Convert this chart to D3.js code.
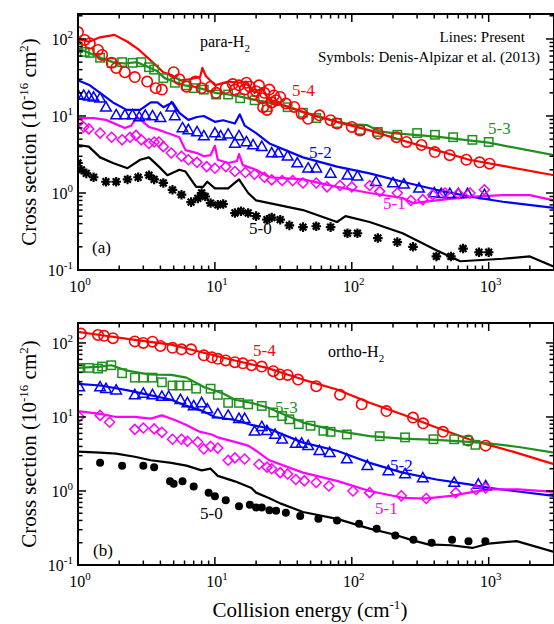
<!DOCTYPE html>
<html>
<head>
<meta charset="utf-8">
<script src="https://cdn.jsdelivr.net/npm/d3@7"></script>
<style>
  body { margin: 0; background: #fff; }
  text { font-family: "Liberation Serif", "Times New Roman", serif; }
</style>
</head>
<body>
<svg id="chart" width="554" height="624"></svg>
<script>
// ---- panel (a) para-H2 : [energy (cm-1), cross section (1e-16 cm2)] ----
const para54Line = [[1,100],[1.2,92],[1.45,105],[1.85,113],[2.3,92],[2.8,72],[3.5,50],[4.2,37],[4.8,34],[5.6,29],[6.5,30],[7.8,32],[8.1,42],[8.6,33],[10,25],[12.5,28],[15,27],[17,28],[19.5,20],[22,23],[25,16],[44,11.3],[78,8.4],[135,6.5],[235,4.8],[415,3.6],[720,2.7],[1270,2.25],[3000,1.7]];
const para54Sym = [[1,123],[1.12,97],[1.22,88],[1.4,72],[1.5,62],[1.76,49],[1.9,42],[2.2,37],[2.6,32],[3.2,28],[3.7,23],[4.1,22],[5,37],[5.5,30],[6.2,24],[7.2,28],[8,23],[9.3,24],[10.2,20],[12,23],[13.5,26],[14,22],[15,25],[16.5,22],[17,27],[18,24],[19,19],[20,21],[21,25],[22,17],[22.5,13],[23,20],[24,12],[25,22],[26,15],[27,18.5],[28,16],[30,17.7],[33,14.5],[38,13.1],[43,10.7],[48,9.2],[58,10.2],[70,8.8],[78,8.0],[100,7.2],[115,6.5],[155,5.9],[212,5.3],[251,4.6],[323,4.2],[404,3.4],[519,3.1],[687,2.7],[859,2.5],[1016,2.4]];
const para53Line = [[1,76],[1.2,66],[1.5,56],[1.8,50],[2.2,48],[2.7,50],[3.2,44],[3.8,38],[4.3,31],[5,28],[6,25],[7,24],[8.5,22],[10,20],[12.5,19],[15,18],[20,16],[25,15],[35,13],[45,11],[60,9.5],[80,8.3],[100,7.8],[130,7.6],[160,6.3],[200,6.0],[415,5.4],[1000,4.5],[3000,3.1]];
const para53Sym = [[1,76],[1.12,68],[1.22,66],[1.45,57],[1.76,49],[2.1,50],[2.5,49],[2.9,50],[3.3,43],[3.6,40],[4.2,31],[5.1,27],[6.2,25],[7,23],[8.3,22],[10.2,19],[12.5,19],[15.3,17],[19.5,16],[24,13],[34,13],[44,11],[55,9.4],[78,8.1],[115,6.6],[155,6.2],[215,5.7],[300,6.0],[405,5.7],[550,5.3],[760,4.9],[1000,4.6]];
const para52Line = [[1,29],[1.22,25],[1.45,20],[1.8,15],[2.27,12],[2.84,12],[3.4,15],[3.8,15],[4.2,13],[4.9,15],[5.5,11],[6.4,8.9],[7.4,9.7],[8.3,10],[10,8.4],[11.5,8.8],[14,8.0],[15.2,10.5],[16.5,7.5],[20,6],[25,4.4],[44,2.9],[78,2.2],[135,1.8],[235,1.4],[415,1.1],[720,0.9],[1270,0.77],[3000,0.64]];
const para52Sym = [[1,18.7],[1.1,18.5],[1.2,18],[1.3,17.5],[1.45,17],[1.6,13],[1.9,10.3],[2.2,10.3],[2.5,10.3],[2.8,9.7],[3.1,10.2],[3.5,10],[4,9.5],[4.8,13],[5.1,10],[5.8,7],[6.4,6.6],[7.4,6.2],[8.3,5.5],[10,6],[11,5.5],[12.5,5.8],[14,4.4],[15,5.5],[17,4.6],[19,4.2],[22,4.0],[26,3.3],[29,3.3],[34,3.0],[40,2.45],[48,2.1],[55,2.1],[70,1.8],[93,1.7],[110,1.65],[150,1.4],[200,1.35],[240,1.3],[310,1.15],[400,1.0],[450,0.98],[520,0.98],[600,0.98],[700,0.98],[930,0.95]];
const para51Line = [[1,9.4],[1.3,9.4],[1.6,8.9],[2.2,7],[2.45,7.5],[2.7,9.7],[3.3,7.2],[3.9,6.6],[4.5,6],[5.5,5.3],[6.1,3.6],[7.4,3.3],[8.3,3.0],[9.3,3.1],[10,4.1],[10.5,2.7],[12.5,2.45],[14.5,2.6],[15,3.2],[16,2.3],[20,2.0],[25,1.6],[44,1.5],[78,1.2],[135,1.0],[235,0.86],[280,0.74],[415,0.8],[720,0.89],[1270,0.94],[2000,0.94],[3000,0.8]];
const para51Sym = [[1,8.4],[1.1,7.2],[1.2,6.8],[1.45,6],[1.76,5.3],[2.1,4.9],[2.4,5.3],[2.65,5.6],[2.9,4.9],[3.3,4.4],[3.6,4.6],[3.9,4.6],[4.2,4],[4.8,3.3],[5.7,3.0],[6.4,2.7],[7.4,2.5],[8.7,2.2],[10,2.1],[12,2.2],[14,1.9],[16.7,1.85],[19.5,1.75],[23,1.6],[26,1.48],[31,1.45],[37,1.45],[44,1.35],[55,1.35],[66,1.2],[82,1.25],[100,1.2],[135,1.25],[160,1.05],[215,1.0],[270,0.8],[330,0.82],[390,0.95],[480,1.0],[600,0.98],[730,1.0],[930,1.1]];
const para50Line = [[1,4.2],[1.2,4.0],[1.45,2.9],[1.8,2.45],[2.3,2.1],[2.85,2.7],[3.3,2.9],[3.9,2.2],[4.5,1.7],[5.5,2.0],[6.1,1.9],[7.3,1.2],[8.2,1.2],[8.8,1.4],[10,1.15],[12.5,1.15],[15,1.5],[17.5,1.0],[20,0.8],[25,0.74],[44,0.6],[78,0.42],[90,0.5],[135,0.42],[235,0.3],[415,0.18],[620,0.13],[1270,0.14],[2000,0.15],[3000,0.11]];
const para50Sym = [[1,2.45],[1.06,2.0],[1.15,1.8],[1.3,1.6],[1.6,1.4],[1.9,1.4],[2.3,1.5],[2.75,1.6],[3.3,1.7],[3.6,1.5],[4.2,1.35],[4.9,1.1],[5.7,0.95],[6.7,0.76],[7.5,0.85],[8,1.0],[8.5,0.9],[9.3,0.74],[10.5,0.7],[11.5,0.72],[14,0.55],[15.5,0.58],[17.5,0.55],[20,0.5],[24,0.45],[26,0.48],[30,0.45],[35,0.38],[44,0.36],[55,0.37],[70,0.36],[93,0.3],[110,0.3],[155,0.26],[215,0.23],[280,0.2],[415,0.15],[530,0.15],[650,0.19],[850,0.17],[1000,0.17]];

// ---- panel (b) ortho-H2 ----
const ortho54Line = [[1,141],[1.45,128],[2.6,110],[4.8,95],[8,75],[14,58],[24,46],[44,32],[78,23.5],[135,15.6],[235,10.8],[415,7.2],[720,5.0],[1000,4.2],[1500,3.4],[3000,2.3]];
const ortho54Sym = [[1.05,134],[1.4,128],[1.55,125],[1.8,116],[2.6,105],[3.0,100],[3.5,104],[4.0,91],[4.9,86],[5.7,82],[6.7,82],[8.3,68],[9.5,64],[10.5,61],[12,58],[14,55],[16,53],[18.5,50],[22,48],[26.7,41.6],[29.8,37.5],[34,37],[40.5,32],[55,26],[82,20],[118,14.8],[179,12],[280,9.8],[332,8.2],[464,6.3],[708,4.8],[950,4.1]];
const ortho53Line = [[1,46],[1.45,48],[1.75,50],[2.2,43],[3.3,37.5],[4.8,37],[6.2,34],[8.3,25.4],[11.5,20.8],[14,17.1],[18.5,15.5],[24,13.5],[44,8.4],[78,6.5],[135,5.5],[235,5.1],[415,4.9],[720,4.6],[1000,4.4],[1700,3.9],[3000,3.3]];
const ortho53Sym = [[1.02,46],[1.2,46],[1.4,45],[1.5,48],[1.75,50],[2.1,39],[2.6,34],[3,34],[3.5,34],[4.1,29.4],[4.9,26.6],[5.5,26.6],[6.3,26.6],[7.3,24.1],[9.3,24.1],[10.5,19.9],[12.5,15.5],[15,15.5],[17.5,14.8],[22,14.1],[26.7,11.5],[31,10.3],[35,9.3],[41,8.0],[50,7.6],[62,6.5],[70,6.3],[92,5.8],[160,5.5],[245,5.3],[395,5.0],[560,5.0],[700,4.8],[800,4.2]];
const ortho52Line = [[1,28],[1.45,26.6],[2.27,23],[3.3,19.9],[4.8,17.1],[6.2,14.1],[8,12.2],[10,10],[14,9.1],[18.5,7.8],[24,7.1],[44,4.5],[78,3.5],[135,2.4],[235,1.77],[415,1.43],[720,1.23],[1000,1.1],[3000,0.86]];
const ortho52Sym = [[1.02,25.4],[1.45,25.4],[1.6,24.1],[1.9,23],[2.6,19.9],[3,20.8],[3.5,19.9],[4.1,18.9],[4.6,18.9],[5.6,17.1],[6.3,15.5],[7,14.1],[8,15.5],[8.8,12.8],[10.5,11],[12.5,10.5],[15,9.5],[16.5,9.5],[19.5,6.4],[22,7.4],[24,6.5],[27.5,5.8],[31,5.0],[39,4.4],[43,4.4],[48,4.1],[58,3.5],[69,3.3],[92,2.7],[130,2.2],[185,1.87],[245,1.7],[330,1.5],[560,1.3],[840,1.23],[950,1.17]];
const ortho51Line = [[1,12],[1.45,11],[1.9,10],[2.6,10],[3.4,9.5],[4.1,10.5],[5.1,9.1],[6.2,7.8],[7.6,6.4],[9.5,5.8],[10.5,5.3],[14,4.6],[17.5,4.1],[20,3.5],[25,2.6],[44,1.77],[78,1.37],[135,1.0],[235,0.81],[340,0.79],[530,0.86],[720,0.95],[1000,1.05],[1650,1.05],[3000,0.97]];
const ortho51Sym = [[1.02,10],[1.45,10.5],[1.7,8.5],[2.6,6.8],[3.0,7.1],[3.6,6.9],[4.1,6.2],[4.9,5.0],[5.7,5.0],[6.3,4.7],[7.5,4.6],[8.3,3.7],[9.3,4.0],[10.5,3.8],[12.5,2.6],[14,2.8],[16.5,2.7],[21,2.3],[24,2.1],[26,2.0],[30,1.77],[34,1.7],[39,1.43],[45,1.37],[55,1.3],[68,1.17],[102,1.0],[135,0.95],[230,0.86],[350,0.79],[575,0.95],[810,1.05],[950,1.1]];
const ortho50Line = [[1,3.4],[1.45,3.3],[1.9,3.2],[2.6,2.9],[3.4,2.6],[4.8,2.4],[6.2,2.2],[8,1.9],[9.3,2.0],[10.5,1.6],[14,1.35],[18.5,1.1],[20,0.95],[25,0.8],[30,0.68],[44,0.52],[78,0.42],[135,0.31],[200,0.26],[280,0.215],[360,0.19],[530,0.185],[760,0.17],[1000,0.195],[1600,0.21],[3000,0.15]];
const ortho50Sym = [[1.45,2.4],[2.1,2.2],[3,2.2],[3.6,2.1],[4.7,1.35],[5,1.25],[5.8,1.35],[7,1.15],[9,0.95],[10,0.85],[12,0.75],[15,0.62],[18,0.65],[20,0.6],[22,0.6],[25,0.55],[28,0.54],[33,0.51],[42,0.46],[57,0.42],[78,0.40],[113,0.36],[152,0.31],[208,0.25],[282,0.22],[383,0.2],[540,0.22],[712,0.21],[945,0.21]];

const energyDomain = [1, 3000];
const xTickExponents = [0, 1, 2, 3];
const yTickExponents = [-1, 0, 1, 2];

const colors = { c54: '#ff0000', c53: '#1f8f1f', c52: '#0000ff', c51: '#ff00ff', c50: '#000000' };

const svg = d3.select('#chart');
const x = d3.scaleLog().domain(energyDomain).range([78, 554]);

const panels = [
  {
    name: 'a', top: 14, bottom: 270, yMax: 211,
    series: [
      { line: para53Line, sym: para53Sym, color: colors.c53, shape: 'square' },
      { line: para54Line, sym: para54Sym, color: colors.c54, shape: 'circle' },
      { line: para52Line, sym: para52Sym, color: colors.c52, shape: 'triangle' },
      { line: para51Line, sym: para51Sym, color: colors.c51, shape: 'diamond' },
      { line: para50Line, sym: para50Sym, color: colors.c50, shape: 'star' }
    ],
    labels: [
      { t: '5-4', x: 292, y: 96, c: colors.c54 },
      { t: '5-3', x: 488, y: 134, c: colors.c53 },
      { t: '5-2', x: 309, y: 158, c: colors.c52 },
      { t: '5-1', x: 383, y: 209, c: colors.c51 },
      { t: '5-0', x: 249, y: 234, c: '#000' },
      { t: '(a)', x: 92, y: 253, c: '#000' }
    ],
    tag: 'para-H', tagX: 200, tagY: 47
  },
  {
    name: 'b', top: 323, bottom: 565, yMax: 186,
    series: [
      { line: ortho54Line, sym: ortho54Sym, color: colors.c54, shape: 'circle' },
      { line: ortho53Line, sym: ortho53Sym, color: colors.c53, shape: 'square' },
      { line: ortho52Line, sym: ortho52Sym, color: colors.c52, shape: 'triangle' },
      { line: ortho51Line, sym: ortho51Sym, color: colors.c51, shape: 'diamond' },
      { line: ortho50Line, sym: ortho50Sym, color: colors.c50, shape: 'dot' }
    ],
    labels: [
      { t: '5-4', x: 253, y: 356, c: colors.c54 },
      { t: '5-3', x: 275, y: 413, c: colors.c53 },
      { t: '5-2', x: 390, y: 471, c: colors.c52 },
      { t: '5-1', x: 375, y: 514, c: colors.c51 },
      { t: '5-0', x: 200, y: 519, c: '#000' },
      { t: '(b)', x: 93, y: 556, c: '#000' }
    ],
    tag: 'ortho-H', tagX: 328, tagY: 357
  }
];

function superLabel(sel, base, sup) {
  sel.append('tspan').text(base);
  sel.append('tspan').attr('dy', -7).attr('font-size', 11).text(sup);
}

function drawSymbol(g, shape, px, py, color) {
  if (shape === 'circle') {
    g.append('circle').attr('cx', px).attr('cy', py).attr('r', 5.2)
      .attr('fill', 'none').attr('stroke', color).attr('stroke-width', 1.6);
  } else if (shape === 'square') {
    g.append('rect').attr('x', px - 4.2).attr('y', py - 4.2).attr('width', 8.4).attr('height', 8.4)
      .attr('fill', 'none').attr('stroke', color).attr('stroke-width', 1.5);
  } else if (shape === 'triangle') {
    g.append('path').attr('d', `M${px},${py - 5.5}L${px + 5.3},${py + 3.8}L${px - 5.3},${py + 3.8}Z`)
      .attr('fill', 'none').attr('stroke', color).attr('stroke-width', 1.5);
  } else if (shape === 'diamond') {
    g.append('path').attr('d', `M${px},${py - 5}L${px + 5},${py}L${px},${py + 5}L${px - 5},${py}Z`)
      .attr('fill', 'none').attr('stroke', color).attr('stroke-width', 1.5);
  } else if (shape === 'dot') {
    g.append('circle').attr('cx', px).attr('cy', py).attr('r', 4).attr('fill', color);
  } else if (shape === 'star') {
    const r = 4.8;
    let d = '';
    for (let k = 0; k < 4; k++) {
      const a = k * Math.PI / 4;
      d += `M${px - r * Math.cos(a)},${py - r * Math.sin(a)}L${px + r * Math.cos(a)},${py + r * Math.sin(a)}`;
    }
    g.append('path').attr('d', d).attr('stroke', color).attr('stroke-width', 2.2);
    g.append('circle').attr('cx', px).attr('cy', py).attr('r', 2.6).attr('fill', color);
  }
}

panels.forEach(p => {
  const y = d3.scaleLog().domain([0.1, p.yMax]).range([p.bottom, p.top]);
  const [x0, x1] = x.range();
  const g = svg.append('g');

  const clipId = 'clip-' + p.name;
  svg.append('clipPath').attr('id', clipId).append('rect')
    .attr('x', x0).attr('y', p.top).attr('width', x1 - x0).attr('height', p.bottom - p.top);

  const plot = g.append('g').attr('clip-path', `url(#${clipId})`);
  const line = d3.line().x(d => x(d[0])).y(d => y(d[1]));

  p.series.forEach(s => {
    plot.append('path').attr('d', line(s.line)).attr('fill', 'none')
      .attr('stroke', s.color).attr('stroke-width', 2.2).attr('stroke-linejoin', 'round');
  });
  p.series.forEach(s => {
    s.sym.forEach(d => drawSymbol(plot, s.shape, x(d[0]), y(d[1]), s.color));
  });

  // ticks (inward on all four sides)
  const ticks = g.append('g').attr('stroke', '#000').attr('stroke-width', 1.5);
  for (let e = 0; e <= 3; e++) {
    for (let j = 1; j <= 9; j++) {
      const v = j * Math.pow(10, e);
      if (v < energyDomain[0] || v > energyDomain[1]) continue;
      const len = j === 1 ? 8 : 4.5;
      const px = x(v);
      ticks.append('line').attr('x1', px).attr('x2', px).attr('y1', p.bottom).attr('y2', p.bottom - len);
      ticks.append('line').attr('x1', px).attr('x2', px).attr('y1', p.top).attr('y2', p.top + len);
    }
  }
  for (let e = -1; e <= 2; e++) {
    for (let j = 1; j <= 9; j++) {
      const v = j * Math.pow(10, e);
      if (v < 0.1 || v > p.yMax) continue;
      const len = j === 1 ? 8 : 4.5;
      const py = y(v);
      ticks.append('line').attr('x1', x0).attr('x2', x0 + len).attr('y1', py).attr('y2', py);
      ticks.append('line').attr('x1', x1).attr('x2', x1 - len).attr('y1', py).attr('y2', py);
    }
  }

  // frame
  g.append('rect').attr('x', x0).attr('y', p.top).attr('width', x1 - x0).attr('height', p.bottom - p.top)
    .attr('fill', 'none').attr('stroke', '#000').attr('stroke-width', 2);

  // tick labels
  yTickExponents.forEach(e => {
    const t = g.append('text').attr('x', x0 - 5).attr('y', y(Math.pow(10, e)) + 6)
      .attr('text-anchor', 'end').attr('font-size', 16);
    superLabel(t, '10', String(e));
  });
  xTickExponents.forEach(e => {
    const t = g.append('text').attr('x', x(Math.pow(10, e)) + 2).attr('y', p.bottom + 22)
      .attr('text-anchor', 'middle').attr('font-size', 16);
    superLabel(t, '10', String(e));
  });

  // y axis title
  const cy = (p.top + p.bottom) / 2;
  const yt = g.append('text').attr('transform', `translate(36,${cy}) rotate(-90)`)
    .attr('text-anchor', 'middle').attr('font-size', 21);
  yt.append('tspan').text('Cross section (10');
  yt.append('tspan').attr('dy', -8).attr('font-size', 13).text('-16');
  yt.append('tspan').attr('dy', 8).text(' cm');
  yt.append('tspan').attr('dy', -8).attr('font-size', 13).text('2');
  yt.append('tspan').attr('dy', 8).text(')');

  // series labels
  p.labels.forEach(l => {
    g.append('text').attr('x', l.x).attr('y', l.y).attr('font-size', 17).attr('fill', l.c).text(l.t);
  });
  const tag = g.append('text').attr('x', p.tagX).attr('y', p.tagY).attr('font-size', 16);
  tag.append('tspan').text(p.tag);
  tag.append('tspan').attr('dy', 5).attr('font-size', 11).text('2');
});

// legend note, panel (a)
svg.append('text').attr('x', 525).attr('y', 42).attr('text-anchor', 'end').attr('font-size', 15)
  .text('Lines: Present');
svg.append('text').attr('x', 540).attr('y', 62).attr('text-anchor', 'end').attr('font-size', 15)
  .text('Symbols: Denis-Alpizar et al. (2013)');

// x axis title
const xt = svg.append('text').attr('x', 310).attr('y', 617).attr('text-anchor', 'middle').attr('font-size', 21);
xt.append('tspan').text('Collision energy (cm');
xt.append('tspan').attr('dy', -8).attr('font-size', 13).text('-1');
xt.append('tspan').attr('dy', 8).text(')');
</script>
</body>
</html>
